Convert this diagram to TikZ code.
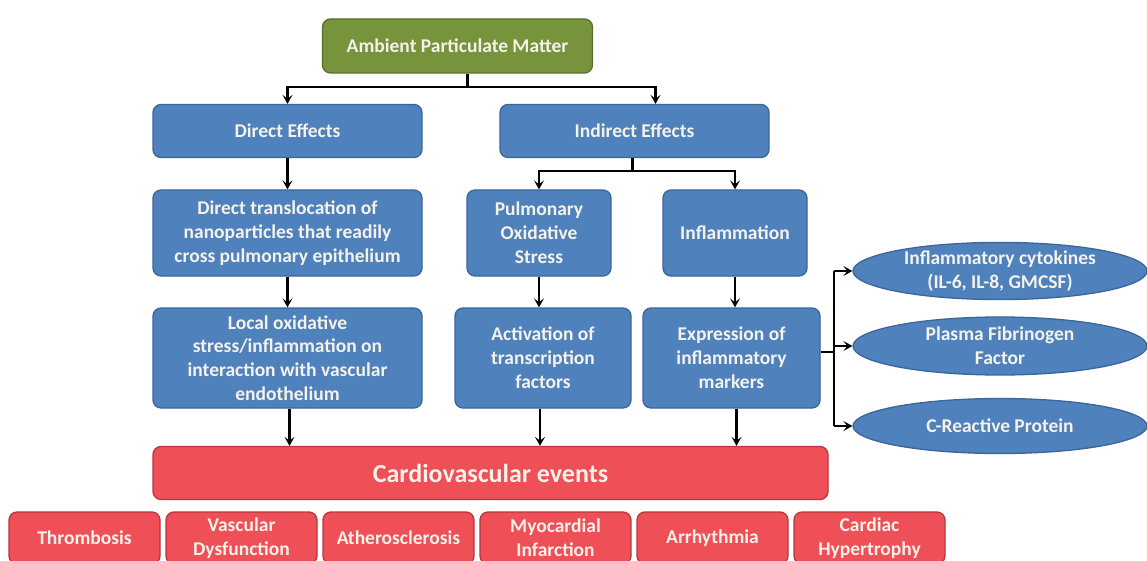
\documentclass[tikz,border=0pt]{standalone}
\usepackage{fontspec}
\setmainfont{Carlito}
\usetikzlibrary{arrows.meta,shapes.geometric,calc}
\definecolor{bfill}{HTML}{4F81BD}
\definecolor{bline}{HTML}{3A669A}
\definecolor{gfill}{HTML}{77933C}
\definecolor{gline}{HTML}{56702A}
\definecolor{rfill}{HTML}{EF4F57}
\definecolor{rline}{HTML}{B8363C}
\definecolor{txt}{HTML}{F5F2EA}
\tikzset{
  base/.style={rounded corners=8pt, line width=1.3pt, text=txt, align=center,
    font=\bfseries\fontsize{19.5}{23.8}\selectfont, inner sep=0pt},
  bluebox/.style={base, fill=bfill, draw=bline},
  greenbox/.style={base, fill=gfill, draw=gline},
  redbox/.style={base, fill=rfill, draw=rline},
  oval/.style={ellipse, fill=bfill, draw=bline, line width=1.3pt, text=txt, align=center,
    font=\bfseries\fontsize{19.5}{23.8}\selectfont, inner sep=0pt,
    minimum width=294pt},
  conn/.style={line width=2.2pt, draw=black},
  arr/.style={conn, -{Stealth[length=9pt,width=10pt,inset=4pt]}}
}
\begin{document}
\begin{tikzpicture}[x=1pt,y=-1pt]
\clip (0,0) rectangle (1147,561);
\fill[white] (0,0) rectangle (1147,561);
% top
\node[greenbox, minimum width=270pt, minimum height=54pt] (amb) at (457.5,46) {Ambient Particulate Matter};
\node[bluebox, minimum width=269pt, minimum height=53pt] (de) at (287.5,131) {Direct Effects};
\node[bluebox, minimum width=269pt, minimum height=53pt] (ie) at (634.5,131) {Indirect Effects};
% second level
\node[bluebox, minimum width=269pt, minimum height=86pt] (dt) at (287.5,233) {Direct translocation of\\nanoparticles that readily\\cross pulmonary epithelium};
\node[bluebox, minimum width=144pt, minimum height=86pt] (pos) at (539,233) {Pulmonary\\Oxidative\\Stress};
\node[bluebox, minimum width=144pt, minimum height=86pt] (inf) at (735,233) {Inflammation};
% third level
\node[bluebox, minimum width=269pt, minimum height=100pt] (lo) at (287.5,358) {Local oxidative\\stress/inflammation on\\interaction with vascular\\endothelium};
\node[bluebox, minimum width=176pt, minimum height=100pt] (act) at (543,358) {Activation of\\transcription\\factors};
\node[bluebox, minimum width=177pt, minimum height=100pt] (exp) at (731.5,358) {Expression of\\inflammatory\\markers};
% ellipses
\node[oval, minimum height=56pt] (cyt) at (1000,271) {Inflammatory cytokines\\(IL-6, IL-8, GMCSF)};
\node[oval, minimum height=58pt] (fib) at (1000,346) {Plasma Fibrinogen\\Factor};
\node[oval, minimum height=55pt] (crp) at (1000,426) {C-Reactive Protein};
% cardiovascular
\node[redbox, minimum width=675pt, minimum height=53pt, font=\bfseries\fontsize{26}{30}\selectfont] (cve) at (490.5,473) {Cardiovascular events};
\foreach \n/\x/\t in {thr/84.5/Thrombosis, vas/241.5/{Vascular\\Dysfunction}, ath/398.5/Atherosclerosis, myo/555.5/{Myocardial\\Infarction}, arr/712.5/Arrhythmia, hyp/869.5/{Cardiac\\Hypertrophy}}
  \node[redbox, minimum width=151pt, minimum height=52pt] (\n) at (\x,538) {\t};
% connectors
\coordinate (j1) at ($(amb.south)+(10,13)$);
\draw[conn] (j1 |- amb.south) -- (j1);
\draw[arr] (j1) -| (de.north);
\draw[arr] (j1) -| ([xshift=21pt]ie.north);
\draw[arr] (de.south) -- (dt.north);
\coordinate (j2) at ($(ie.south)+(-2,13)$);
\draw[conn] (j2 |- ie.south) -- (j2);
\draw[arr] (j2) -| (pos.north);
\draw[arr] (j2) -| (inf.north);
\draw[arr] (dt.south) -- (lo.north);
\draw[arr] (pos.south) -- (pos.south |- act.north);
\draw[arr] (inf.south) -- (inf.south |- exp.north);
\draw[arr] ([xshift=2pt]lo.south) -- ([xshift=2pt]lo.south |- cve.north);
\draw[arr] ([xshift=-3pt]act.south) -- ([xshift=-3pt]act.south |- cve.north);
\draw[arr] ([xshift=5pt]exp.south) -- ([xshift=5pt]exp.south |- cve.north);
\coordinate (bus) at ($(exp.east)+(13,-6)$);
\draw[conn] (exp.east |- bus) -- (bus);
\draw[conn] (bus |- cyt.west) -- (bus |- crp.west);
\draw[arr] (bus |- cyt.west) -- (cyt.west);
\draw[arr] (bus |- fib.west) -- (fib.west);
\draw[arr] (bus |- crp.west) -- (crp.west);
\end{tikzpicture}
\end{document}
